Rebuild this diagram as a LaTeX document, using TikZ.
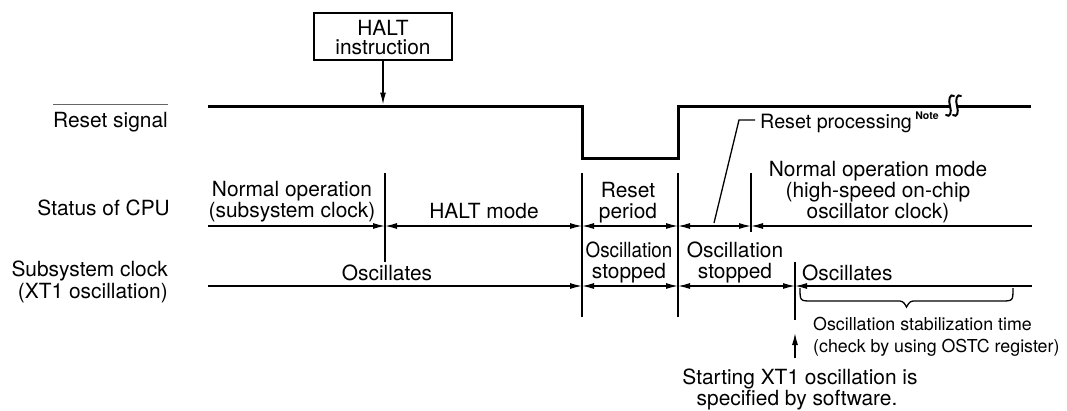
\documentclass[tikz,border=0pt]{standalone}
\usepackage{fontspec}
\setmainfont{TeX Gyre Heros}
\usetikzlibrary{arrows.meta}
\begin{document}
\begin{tikzpicture}[x=1pt,y=-1pt,
  every node/.style={inner sep=0pt,font=\fontsize{20.9}{21}\selectfont},
  lbl/.style={anchor=base},
  lblr/.style={anchor=base east},
  lbll/.style={anchor=base west},
  small/.style={font=\fontsize{17.8}{19}\selectfont},
  thinl/.style={line width=1.3pt},
  sig/.style={line width=3pt,line join=miter},
  brk/.style={line width=2pt,line cap=round},
  >={Latex[length=12pt,width=6pt]}]
\useasboundingbox (0,0) rectangle (1067,410);

% left labels
\node[lblr] (rs) at (168,127) {Reset signal};
\draw[line width=1pt,black!60] ([shift={(0,-7.5)}]rs.north west) -- ([shift={(0,-7.5)}]rs.north east);
\node[lblr] (cpu) at (170,215) {Status of CPU};
\node[lblr] (sub1) at (168,276) {Subsystem clock};
\node[lblr] (sub2) at (168,298) {(XT1 oscillation)};

% HALT instruction box
\node[draw,line width=1.1pt,minimum width=138,minimum height=47] (halt) at (383,36.5) {};
\node[lbl] (halt1) at (383,35) {HALT};
\node[lbl] (halt2) at (383,54.5) {instruction};
\coordinate (haltTip) at (383,104.5);
\draw[thinl,->] (halt.south) -- (haltTip);

% reset signal
\draw[sig] (208,106) -- (582,106) -- (582,158) -- (678,158) -- (678,106) -- (950,106);
\draw[sig] (957,106) -- (1031,106);
\draw[brk] (954,96) .. controls (950,93) and (948,100) .. (950,106)
                    .. controls (952,112) and (950,118) .. (946,115);
\draw[brk] (961,96) .. controls (957,93) and (955,100) .. (957,106)
                    .. controls (959,112) and (957,118) .. (953,115);

% reset processing leader
\node[lbll,font=\fontsize{19.7}{21}\selectfont] (rp) at (760,128) {Reset processing};
\node[lbll,font=\bfseries\fontsize{10.5}{11}\selectfont] (note) at ([shift={(3,-9)}]rp.base east) {Note};
\coordinate (rpA) at (714,223);
\coordinate (rpB) at (739,120);
\draw[thinl] (rpA) -- (rpB) -- ([xshift=-5]rp.west |- rpB);

% vertical boundary lines
\draw[thinl] (385,173) -- (385,262);
\draw[thinl] (582,173) -- (582,317);
\draw[thinl] (678,173) -- (678,317);
\draw[thinl] (751,173) -- (751,232);
\draw[thinl] (795,262) -- (795,320);

% CPU status timeline
\coordinate (c0) at (208,226);
\coordinate (cH) at (385,226);
\coordinate (cR1) at (582,226);
\coordinate (cR2) at (678,226);
\coordinate (cN) at (751,226);
\coordinate (cE) at (1032,226);
\draw[thinl,->] (c0) -- (cH);
\draw[thinl,<->] (cH) -- (cR1);
\draw[thinl,<->] (cR1) -- (cR2);
\draw[thinl,<->] (cR2) -- (cN);
\draw[thinl,<-] (cN) -- (cE);

% subsystem clock timeline
\coordinate (s0) at (208,286);
\coordinate (sR1) at (582,286);
\coordinate (sR2) at (678,286);
\coordinate (sX) at (795,286);
\coordinate (sE) at (1032,286);
\draw[thinl,->] (s0) -- (sR1);
\draw[thinl,<->] (sR1) -- (sR2);
\draw[thinl,<->] (sR2) -- (sX);
\draw[thinl,<-] (sX) -- (sE);

% CPU status texts
\node[lbl] (no1) at (292,196) {Normal operation};
\node[lbl] (no2) at (292,217) {(subsystem clock)};
\node[lbl] (hm) at (484,218) {HALT mode};
\node[lbl] (rpe1) at (628,197) {Reset};
\node[lbl] (rpe2) at (628,218) {period};
\node[lbl] (nm1) at (878,176) {Normal operation mode};
\node[lbl] (nm2) at (878,197) {(high-speed on-chip};
\node[lbl] (nm3) at (878,218) {oscillator clock)};

% subsystem clock texts
\node[lbl] (osc1) at (387,280) {Oscillates};
\node[lbl] (os1a) at (629,257) {\scalebox{0.9}[1]{Oscillation}};
\node[lbl] (os1b) at (629,278) {stopped};
\node[lbl] (os2a) at (735,257) {Oscillation};
\node[lbl] (os2b) at (735,278) {stopped};
\node[lbll] (osc2) at (802,280) {Oscillates};

% stabilization brace
\draw[thinl] (800,288) .. controls (800,301) .. (812,301) -- (896,301)
  .. controls (903,301) .. (906.5,307) .. controls (910,301) .. (917,301)
  -- (1001,301) .. controls (1013,301) .. (1013,288);
\node[lbll,small] (st1) at (813,330) {Oscillation stabilization time};
\node[lbll,small] (st2) at (813,352) {(check by using OSTC register)};

% software start arrow
\coordinate (swTail) at (795,358);
\coordinate (swTip) at (795,333);
\draw[thinl,->] (swTail) -- (swTip);
\node[lbl] (sw1) at (800,384) {Starting XT1 oscillation is};
\node[lbl] (sw2) at (797,405) {specified by software.};
\end{tikzpicture}
\end{document}
